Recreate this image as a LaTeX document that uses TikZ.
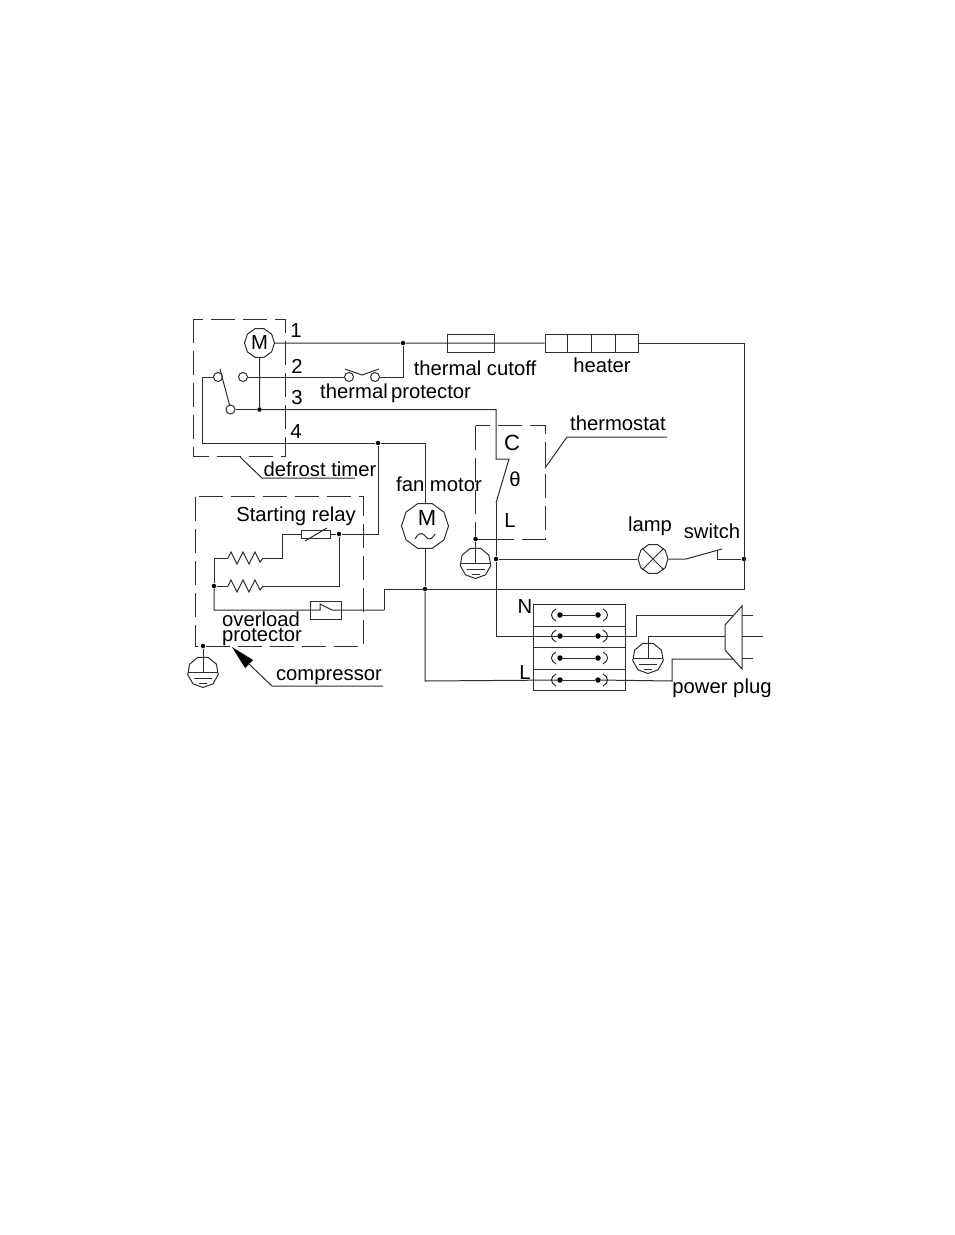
\documentclass[tikz,border=0pt]{standalone}
\usepackage{fontspec}
\setmainfont{Liberation Sans}
\usetikzlibrary{shapes.geometric,calc}
\definecolor{wirecolor}{RGB}{45,45,45}
\def\px{0.75pt}
\tikzset{
  wire/.style={draw=wirecolor,line width=0.75pt},
  dashbox/.style={wire,dash pattern=on 18pt off 6pt},
  partbox/.style={wire,rectangle,inner sep=0pt},
  octa/.style={wire,regular polygon,regular polygon sides=10,inner sep=0pt,fill=white},
  earthcase/.style={wire,regular polygon,regular polygon sides=9,shape border rotate=180,inner sep=0pt,minimum size=31*\px,fill=white},
  contact/.style={wire,circle,fill=white,inner sep=0pt,minimum size=9*\px},
  joint/.style={circle,fill=black,inner sep=0pt,minimum size=4.5*\px},
  lbl/.style={inner sep=0pt,font=\fontsize{15.2}{15.2}\selectfont,text=black},
}
\newcommand{\earth}[3]{%
  \node[earthcase] (#1) at (#2,#3) {};
  \draw[wire] (#2-15,#3) -- (#2+15,#3);
  \draw[wire] (#2-9,#3+6) -- (#2+9,#3+6);
  \draw[wire] (#2-4,#3+11) -- (#2+4,#3+11);
}
\begin{document}
\begin{tikzpicture}[x=\px,y=-\px]
  \useasboundingbox (0,0) rectangle (954,1235);

  % draw defrost timer
  \draw[dashbox] (193.5,319) rectangle (285,456);
  \node[octa,minimum size=30*\px] (timermotor) at (259.5,343) {\fontsize{15.2}{15.2}\selectfont M};
  \node[contact] (swleft) at (218,377) {};
  \node[contact] (swright) at (243,377) {};
  \node[contact] (swcom) at (230.5,409.5) {};
  \node[joint] (j3) at (259.5,409.5) {};
  \node[joint] (j4) at (378,443) {};
  \node[joint] (jtop) at (403,343) {};
  \coordinate (bladetop) at (220,369);
  \coordinate (bladeend) at (229.5,405);
  \draw[wire] (bladetop) -- (bladeend);
  \draw[wire] (timermotor.south) -- (j3);
  \draw[wire] (swcom) -- (j3);
  \coordinate (corner4) at (202,443);
  \draw[wire] (swleft.west) -- (202,377) -- (corner4) -- (j4);
  \node[lbl] (n1) at (296,331) {1};
  \node[lbl] (n2) at (297,366) {2};
  \node[lbl] (n3) at (297,398) {3};
  \node[lbl] (n4) at (296,432) {4};
  \coordinate (timertail) at (240,457);
  \coordinate (timerknee) at (262,478);
  \coordinate (timerend) at (355,478);
  \draw[wire] (timertail) -- (timerknee) -- (timerend);
  \node[lbl] (timerlabel) at (320,469) {defrost timer};

  % draw thermal protector
  \node[contact] (tpa) at (349,377) {};
  \node[contact] (tpb) at (375,377) {};
  \draw[wire] (swright) -- (tpa);
  \draw[wire] (tpb) -- (403,377) -- (jtop);
  \draw[wire] (345,369) -- (362,375) -- (379,369);
  \node[lbl] (tplabela) at (354,391) {thermal};
  \node[lbl] (tplabelb) at (431,394) {protector};

  % draw cutoff and heater
  \node[partbox,minimum width=47*\px,minimum height=18*\px] (cutoff) at (470.5,343) {};
  \node[partbox,minimum width=93*\px,minimum height=18*\px] (heater) at (591.5,343) {};
  \foreach \divx in {567,591,615}
    \draw[wire] (\divx,334) -- (\divx,352);
  \draw[wire] (timermotor.east) -- (jtop) -- (cutoff.west) -- (cutoff.east) -- (heater.west);
  \node[lbl] (cutofflabel) at (475,368) {thermal cutoff};
  \node[lbl] (heaterlabel) at (602,365) {heater};

  % draw thermostat
  \draw[dashbox] (475.5,425.5) rectangle (545,539);
  \coordinate (tscorner) at (496,459);
  \coordinate (tstop) at (509,459);
  \coordinate (tsbot) at (496,503);
  \node[joint] (jearth) at (475.5,539) {};
  \node[joint] (jlamp) at (496,559) {};
  \draw[wire] (j3) -- (496,409.5) -- (tscorner) -- (tstop) -- (tsbot);
  \draw[wire] (jearth) -- (496,539);
  \earth{earthts}{475.5}{563}
  \draw[wire] (jearth) -- (earthts.center);
  \node[lbl] (tsc) at (512,443) {\fontsize{16.5}{16.5}\selectfont C};
  \node[lbl] (tstheta) at (515,479) {θ};
  \node[lbl] (tsl) at (510,521) {L};
  \coordinate (tsleader) at (545,468);
  \coordinate (tsknee) at (567,437);
  \coordinate (tsend) at (667,437);
  \draw[wire] (tsleader) -- (tsknee) -- (tsend);
  \node[lbl] (tslabel) at (618,423) {thermostat};

  % draw lamp and switch
  \node[octa,minimum size=30*\px] (lamp) at (653,559) {};
  \draw[wire] (lamp.north west) -- (lamp.south east);
  \draw[wire] (lamp.north east) -- (lamp.south west);
  \coordinate (swa) at (686,559);
  \coordinate (swb) at (722,549);
  \coordinate (swc) at (717,550);
  \coordinate (swd) at (717,559);
  \node[joint] (jswitch) at (744,559) {};
  \draw[wire] (jlamp) -- (lamp.west);
  \draw[wire] (lamp.east) -- (swa) -- (swb);
  \draw[wire] (swc) -- (swd) -- (jswitch);
  \node[lbl] (lamplabel) at (650,526) {lamp};
  \node[lbl] (switchlabel) at (712,531) {switch};

  % draw return wire
  \coordinate (retcorner) at (744,589);
  \coordinate (retleft) at (384,589);
  \coordinate (retdown) at (384,610);
  \node[joint] (jfan) at (425,589) {};
  \draw[wire] (heater.east) -| (retcorner) -- (retleft) -- (retdown);

  % draw fan motor
  \node[octa,minimum size=47*\px] (fan) at (425,526) {};
  \node[lbl] (fanm) at (427,518) {\fontsize{16.5}{16.5}\selectfont M};
  \draw[wire] (415,539) .. controls (420,530) and (424,534) .. (426,537) .. controls (428,540) and (432,540) .. (435,534);
  \draw[wire] (j4) -- (425,443) -- (fan.north);
  \draw[wire] (fan.south) -- (jfan);
  \node[lbl] (fanlabel) at (439,484) {fan motor};

  % draw compressor
  \draw[dashbox] (195.5,496.5) rectangle (363.5,646);
  \node[partbox,minimum width=29*\px,minimum height=8*\px] (ptc) at (315.5,534) {};
  \draw[wire] (305,541) -- (327,528);
  \node[joint] (jrelay) at (339,534) {};
  \node[joint] (jres) at (214,586) {};
  \coordinate (resaend) at (263,558);
  \coordinate (resastart) at (228,558);
  \coordinate (resbstart) at (228,586);
  \coordinate (resbend) at (263,586);
  \foreach \resy in {558,586}
    \draw[wire] (228,\resy) -- ++(3,-6) -- ++(6,12) -- ++(6,-12) -- ++(6,12) -- ++(6,-12) -- ++(5,10) -- (263,\resy);
  \draw[wire] (ptc.east) -- (jrelay);
  \draw[wire] (jrelay) -- (378,534) -- (j4);
  \draw[wire] (ptc.west) -- (282,534) -- (282,558) -- (resaend);
  \draw[wire] (resastart) -- (214,558) -- (jres);
  \draw[wire] (resbstart) -- (jres);
  \draw[wire] (resbend) -- (339,586) -- (jrelay);
  \node[partbox,minimum width=31*\px,minimum height=18*\px] (overload) at (325.5,610) {};
  \coordinate (olin) at (320,610);
  \coordinate (olup) at (320,604);
  \coordinate (olout) at (332,610);
  \draw[wire] (jres) -- (214,610) -- (overload.west) -- (olin) -- (olup) -- (olout) -- (retdown);
  \node[lbl] (relaylabel) at (296,516) {Starting relay};
  \node[lbl] (ollabela) at (261,619) {overload};
  \node[lbl] (ollabelb) at (262,637.5) {protector};
  \node[joint] (jcomp) at (203,646) {};
  \earth{earthcomp}{203}{672}
  \draw[wire] (jcomp) -- (earthcomp.center);
  \fill[black] (232,647) -- (253,660) -- (245,668) -- cycle;
  \coordinate (comparrow) at (249,664);
  \coordinate (compknee) at (272,686);
  \coordinate (compend) at (383,686);
  \draw[wire] (comparrow) -- (compknee) -- (compend);
  \node[lbl] (complabel) at (329,677) {compressor};

  % draw terminal block
  \draw[wire] (533,604) rectangle (625,690);
  \foreach \liney in {626,647,669}
    \draw[wire] (533,\liney) -- (625,\liney);
  \foreach \rowid/\rowy in {a/615,b/636,c/658,d/680} {
    \node[joint,minimum size=5.5*\px] (tl\rowid) at (560,\rowy) {};
    \node[joint,minimum size=5.5*\px] (tr\rowid) at (598,\rowy) {};
    \draw[wire] (556,\rowy-6) .. controls (550,\rowy-3) and (550,\rowy+3) .. (556,\rowy+6);
    \draw[wire] (603,\rowy-6) .. controls (609,\rowy-3) and (609,\rowy+3) .. (603,\rowy+6);
    \draw[wire] (tl\rowid) -- (tr\rowid);
  }
  \node[lbl] (blockn) at (525,607) {N};
  \node[lbl] (blockl) at (525,673) {L};

  % draw power plug
  \draw[wire] (742,606) -- (725,625) -- (725,650) -- (742,669) -- cycle;
  \earth{earthplug}{648}{658}
  \coordinate (plugn) at (733,615);
  \coordinate (plugg) at (725,636);
  \coordinate (plugl) at (733,659);
  \draw[wire] (jlamp) -- (tsbot);
  \draw[wire] (jlamp) -- (496,636) -- (tlb);
  \draw[wire] (trb) -- (636,636) -- (636,615) -- (plugn);
  \draw[wire] (earthplug.center) -- (648,636) -- (plugg);
  \draw[wire] (jfan) -- (425,681) -- (tld);
  \draw[wire] (trd) -- (672,681) -- (672,659) -- (plugl);
  \draw[wire] (742,615) -- (753,615);
  \draw[wire] (742,636) -- (763,636);
  \draw[wire] (742,658) -- (753,658);
  \node[lbl] (pluglabel) at (722,688) {power plug};
\end{tikzpicture}
\end{document}
